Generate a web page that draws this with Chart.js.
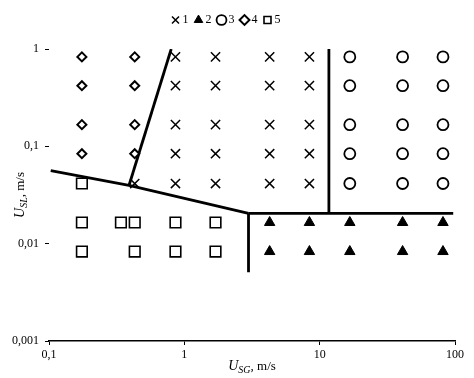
<!DOCTYPE html>
<html>
<head>
<meta charset="utf-8">
<script src="https://cdn.jsdelivr.net/npm/chart.js@4/dist/chart.umd.min.js"></script>
<style>
  body { margin: 0; background: #fff; }
</style>
</head>
<body>
<canvas id="chart" width="474" height="378"></canvas>
<script>
// regime points (U_SG, U_SL in m/s)
const crossX = [0.86, 1.70, 4.27, 8.4, 0.86, 1.70, 4.27, 8.4, 0.86, 1.70, 4.27, 8.4, 0.86, 1.70, 4.27, 8.4, 0.43, 0.86, 1.70, 4.27, 8.4];
const crossY = [0.83, 0.83, 0.83, 0.83, 0.42, 0.42, 0.42, 0.42, 0.167, 0.167, 0.167, 0.167, 0.084, 0.084, 0.084, 0.084, 0.0415, 0.0415, 0.0415, 0.0415, 0.0415];

const triX = [4.27, 8.4, 16.7, 41, 81.5, 4.27, 8.4, 16.7, 41, 81.5];
const triY = [0.0165, 0.0165, 0.0165, 0.0165, 0.0165, 0.0083, 0.0083, 0.0083, 0.0083, 0.0083];

const circX = [16.7, 41, 81.5, 16.7, 41, 81.5, 16.7, 41, 81.5, 16.7, 41, 81.5, 16.7, 41, 81.5];
const circY = [0.83, 0.83, 0.83, 0.42, 0.42, 0.42, 0.167, 0.167, 0.167, 0.084, 0.084, 0.084, 0.0415, 0.0415, 0.0415];

const diamX = [0.175, 0.43, 0.175, 0.43, 0.175, 0.43, 0.175, 0.43];
const diamY = [0.83, 0.83, 0.42, 0.42, 0.167, 0.167, 0.084, 0.084];

const sqX = [0.175, 0.175, 0.34, 0.43, 0.86, 1.70, 0.175, 0.43, 0.86, 1.70];
const sqY = [0.0415, 0.0165, 0.0165, 0.0165, 0.0165, 0.0165, 0.0083, 0.0083, 0.0083, 0.0083];

// boundary lines
const lineAX = [0.39, 0.80],          lineAY = [0.0396, 1.0];
const lineBX = [0.103, 0.39, 2.98],   lineBY = [0.0563, 0.0396, 0.0205];
const lineCX = [2.98, 97],            lineCY = [0.0205, 0.0205];
const lineDX = [2.98, 2.98],          lineDY = [0.0205, 0.0051];
const lineEX = [11.7, 11.7],          lineEY = [0.0205, 1.0];

const seriesLabels = ['1', '2', '3', '4', '5'];
const xTicks = [0.1, 1, 10, 100];
const xTickLabels = ['0,1', '1', '10', '100'];
const yTicks = [0.001, 0.01, 0.1, 1];
const yTickLabels = ['0,001', '0,01', '0,1', '1'];

const pts = (xs, ys) => xs.map((x, i) => ({ x: x, y: ys[i] }));

Chart.defaults.font.family = '"Liberation Serif", "Times New Roman", serif';
Chart.defaults.color = '#000';

function markerSet(label, xs, ys, style, radius, fill, bw) {
  return {
    label: label,
    data: pts(xs, ys),
    pointStyle: style,
    pointRadius: radius,
    pointHoverRadius: radius,
    borderColor: '#000',
    backgroundColor: fill,
    pointBorderWidth: bw,
    borderWidth: bw,
    showLine: false
  };
}

function boundary(xs, ys) {
  return {
    label: '',
    data: pts(xs, ys),
    showLine: true,
    borderColor: '#000',
    borderWidth: 2.8,
    pointRadius: 0,
    fill: false
  };
}

const axisTitles = {
  id: 'axisTitles',
  afterDraw(chart) {
    const ctx = chart.ctx;
    const a = chart.chartArea;
    const draw = (parts, cx, cy, rotate) => {
      ctx.save();
      ctx.translate(cx, cy);
      if (rotate) ctx.rotate(-Math.PI / 2);
      ctx.fillStyle = '#000';
      ctx.textBaseline = 'alphabetic';
      const fonts = ['italic 14px "Liberation Serif"', 'italic 10px "Liberation Serif"', '13px "Liberation Serif"'];
      const offs = [5, 8, 5];
      const widths = parts.map((p, i) => { ctx.font = fonts[i]; return ctx.measureText(p).width; });
      let x = -widths.reduce((s, w) => s + w, 0) / 2;
      parts.forEach((p, i) => {
        ctx.font = fonts[i];
        ctx.fillText(p, x, offs[i]);
        x += widths[i];
      });
      ctx.restore();
    };
    draw(['U', 'SG', ', m/s'], (a.left + a.right) / 2, a.bottom + 24, false);
    draw(['U', 'SL', ', m/s'], 19, (a.top + a.bottom) / 2, true);
  }
};

new Chart(document.getElementById('chart'), {
  type: 'scatter',
  data: {
    datasets: [
      markerSet(seriesLabels[0], crossX, crossY, 'crossRot', 6.5, '#000', 1.5),
      markerSet(seriesLabels[1], triX, triY, 'triangle', 6, '#000', 1),
      markerSet(seriesLabels[2], circX, circY, 'circle', 5.5, '#fff', 1.8),
      markerSet(seriesLabels[3], diamX, diamY, 'rectRot', 4.5, '#fff', 2),
      markerSet(seriesLabels[4], sqX, sqY, 'rect', 7.5, '#fff', 1.6),
      boundary(lineAX, lineAY),
      boundary(lineBX, lineBY),
      boundary(lineCX, lineCY),
      boundary(lineDX, lineDY),
      boundary(lineEX, lineEY)
    ]
  },
  options: {
    responsive: false,
    animation: false,
    layout: { padding: { top: 5, right: 19, left: 0, bottom: 0 } },
    plugins: {
      tooltip: { enabled: false },
      title: {
        display: true,
        text: '',
        weight: 500,
        font: { size: 1, lineHeight: 1 },
        padding: { top: 0, bottom: 12 }
      },
      legend: {
        position: 'top',
        labels: {
          usePointStyle: true,
          boxWidth: 2,
          boxHeight: 7,
          padding: 9,
          color: '#000',
          font: { size: 12 },
          filter: (item) => item.text !== ''
        }
      }
    },
    scales: {
      x: {
        type: 'logarithmic',
        min: 0.1,
        max: 100,
        afterBuildTicks: (scale) => { scale.ticks = xTicks.map(v => ({ value: v })); },
        afterFit: (scale) => { scale.height = 37; },
        ticks: {
          autoSkip: false,
          maxRotation: 0,
          padding: 3,
          font: { size: 12 },
          callback: (v) => xTickLabels[xTicks.indexOf(v)]
        },
        grid: { drawOnChartArea: false, tickLength: 4, color: '#000', lineWidth: 1 },
        border: { display: true, color: '#000', width: 1.5 }
      },
      y: {
        type: 'logarithmic',
        min: 0.001,
        max: 1,
        afterBuildTicks: (scale) => { scale.ticks = yTicks.map(v => ({ value: v })); },
        afterFit: (scale) => { scale.width = 49; },
        ticks: {
          autoSkip: false,
          padding: 6,
          font: { size: 12 },
          callback: (v) => yTickLabels[yTicks.indexOf(v)]
        },
        grid: { drawOnChartArea: false, tickLength: 4, color: '#000', lineWidth: 1 },
        border: { display: false }
      }
    }
  },
  plugins: [axisTitles]
});
</script>
</body>
</html>
